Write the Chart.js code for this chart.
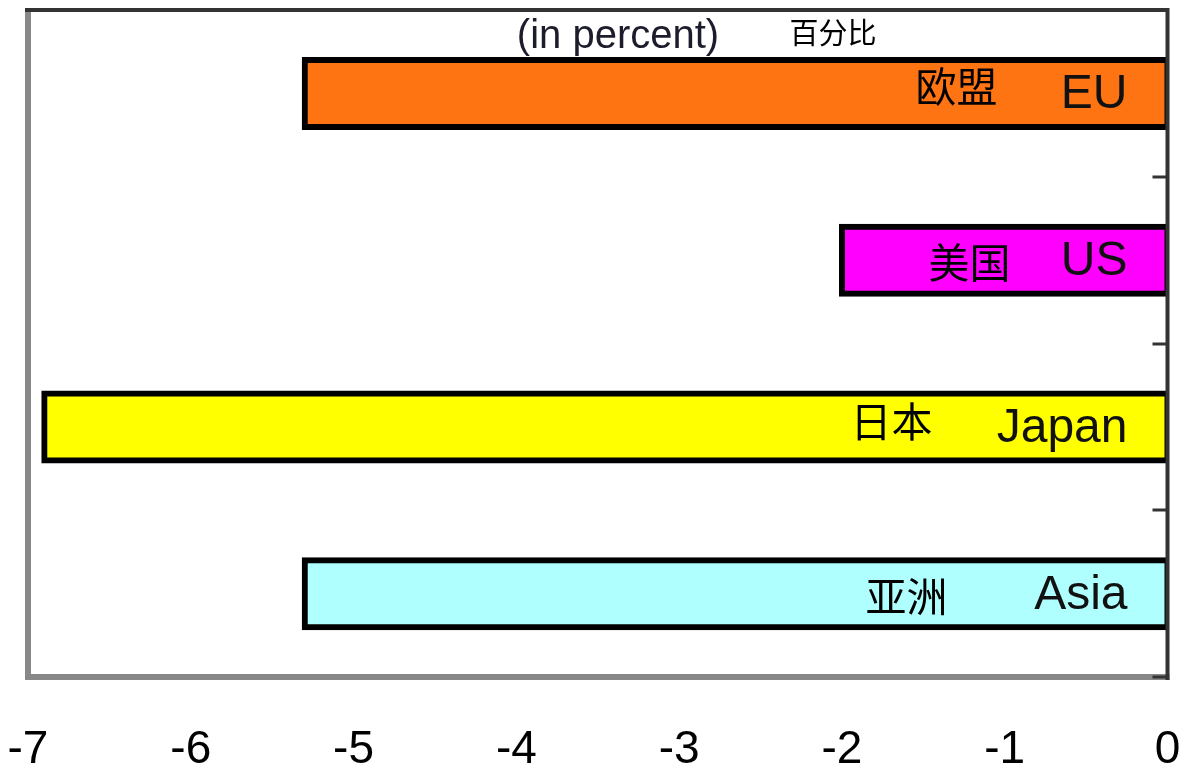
<!DOCTYPE html>
<html>
<head>
<meta charset="utf-8">
<script src="https://cdn.jsdelivr.net/npm/chart.js@4/dist/chart.umd.min.js"></script>
<style>
  html, body { margin: 0; padding: 0; background: #fff; }
  canvas { display: block; }
</style>
</head>
<body>
<canvas id="c" width="1184" height="771"></canvas>
<script>
// Regions and their change (in percent)
const regions = ['EU', 'US', 'Japan', 'Asia'];
const regionsZh = ['欧盟', '美国', '日本', '亚洲'];
const changes = [-5.3, -2.0, -6.9, -5.3];
const barColors = ['#FF7412', '#FF00FF', '#FFFF00', '#B0FFFF'];

// Axis range
const xMin = -7;
const xMax = 0;

// Placement of the Chinese names inside each bar (px from the bar's zero end / from bar centre)
const zhRightOffset = [170, 157, 235, 220];
const zhDy = [-7, 2, -5, 3];

const latin = '"Liberation Sans", Arial, sans-serif';
const cjk = '"Noto Sans CJK SC", "Noto Sans", sans-serif';

const framePlugin = {
  id: 'frame',
  afterDatasetsDraw(chart) {
    const { ctx, chartArea: a } = chart;
    ctx.save();
    // light left/bottom edges
    ctx.strokeStyle = '#888888';
    ctx.lineWidth = 6;
    ctx.beginPath();
    ctx.moveTo(a.left, a.top - 2);
    ctx.lineTo(a.left, a.bottom);
    ctx.lineTo(a.right + 2, a.bottom);
    ctx.stroke();
    // dark top/right edges
    ctx.strokeStyle = '#333333';
    ctx.lineWidth = 4;
    ctx.beginPath();
    ctx.moveTo(a.left - 3, a.top);
    ctx.lineTo(a.right, a.top);
    ctx.lineTo(a.right, a.bottom + 3);
    ctx.stroke();
    // inward tick marks on the right edge at category boundaries
    const y = chart.scales.y;
    ctx.lineWidth = 3;
    const step = y.getPixelForValue(1) - y.getPixelForValue(0);
    for (let i = 0; i < regions.length; i++) {
      const yy = Math.round(y.getPixelForValue(i) + step / 2);
      ctx.beginPath();
      ctx.moveTo(a.right - 15, yy);
      ctx.lineTo(a.right, yy);
      ctx.stroke();
    }
    ctx.restore();
  },
  afterDraw(chart) {
    const { ctx } = chart;
    const meta = chart.getDatasetMeta(0);
    ctx.save();
    // unit note
    ctx.fillStyle = '#1c1c2c';
    ctx.font = '40px ' + latin;
    ctx.textAlign = 'center';
    ctx.textBaseline = 'alphabetic';
    ctx.fillText('(in percent)', 618, 48);
    ctx.fillStyle = '#000';
    ctx.font = '29px ' + cjk;
    ctx.textBaseline = 'middle';
    ctx.fillText('百分比', 833, 33);

    // names inside the bars
    meta.data.forEach((bar, i) => {
      const end = bar.base;
      ctx.fillStyle = '#111';
      ctx.font = '48px ' + latin;
      ctx.textAlign = 'right';
      ctx.textBaseline = 'alphabetic';
      ctx.fillText(regions[i], end - 40, bar.y + 15);
      ctx.fillStyle = '#000';
      ctx.font = '41px ' + cjk;
      ctx.textBaseline = 'middle';
      ctx.fillText(regionsZh[i], end - zhRightOffset[i], bar.y + zhDy[i]);
    });
    ctx.restore();
  }
};

new Chart(document.getElementById('c'), {
  type: 'bar',
  data: {
    labels: regions,
    datasets: [{
      data: changes,
      backgroundColor: barColors,
      borderColor: '#000',
      borderWidth: 6,
      borderSkipped: false,
      barThickness: 67,
      // outline straddles the bar edge
      inflateAmount: 3
    }]
  },
  options: {
    indexAxis: 'y',
    responsive: false,
    devicePixelRatio: 1,
    animation: false,
    layout: { padding: { left: 28, right: 16.5, top: 10, bottom: 0 } },
    plugins: {
      legend: { display: false },
      tooltip: { enabled: false }
    },
    scales: {
      x: {
        type: 'linear',
        min: xMin,
        max: xMax,
        grid: { display: false, drawTicks: false },
        border: { display: false },
        ticks: {
          stepSize: 1,
          color: '#000',
          padding: 46,
          font: { family: latin, size: 46 }
        },
        afterFit(s) {
          s.height = 94;
          s.paddingLeft = 0;
          s.paddingRight = 0;
        }
      },
      y: {
        display: false,
        grid: { display: false }
      }
    }
  },
  plugins: [framePlugin]
});
</script>
</body>
</html>
